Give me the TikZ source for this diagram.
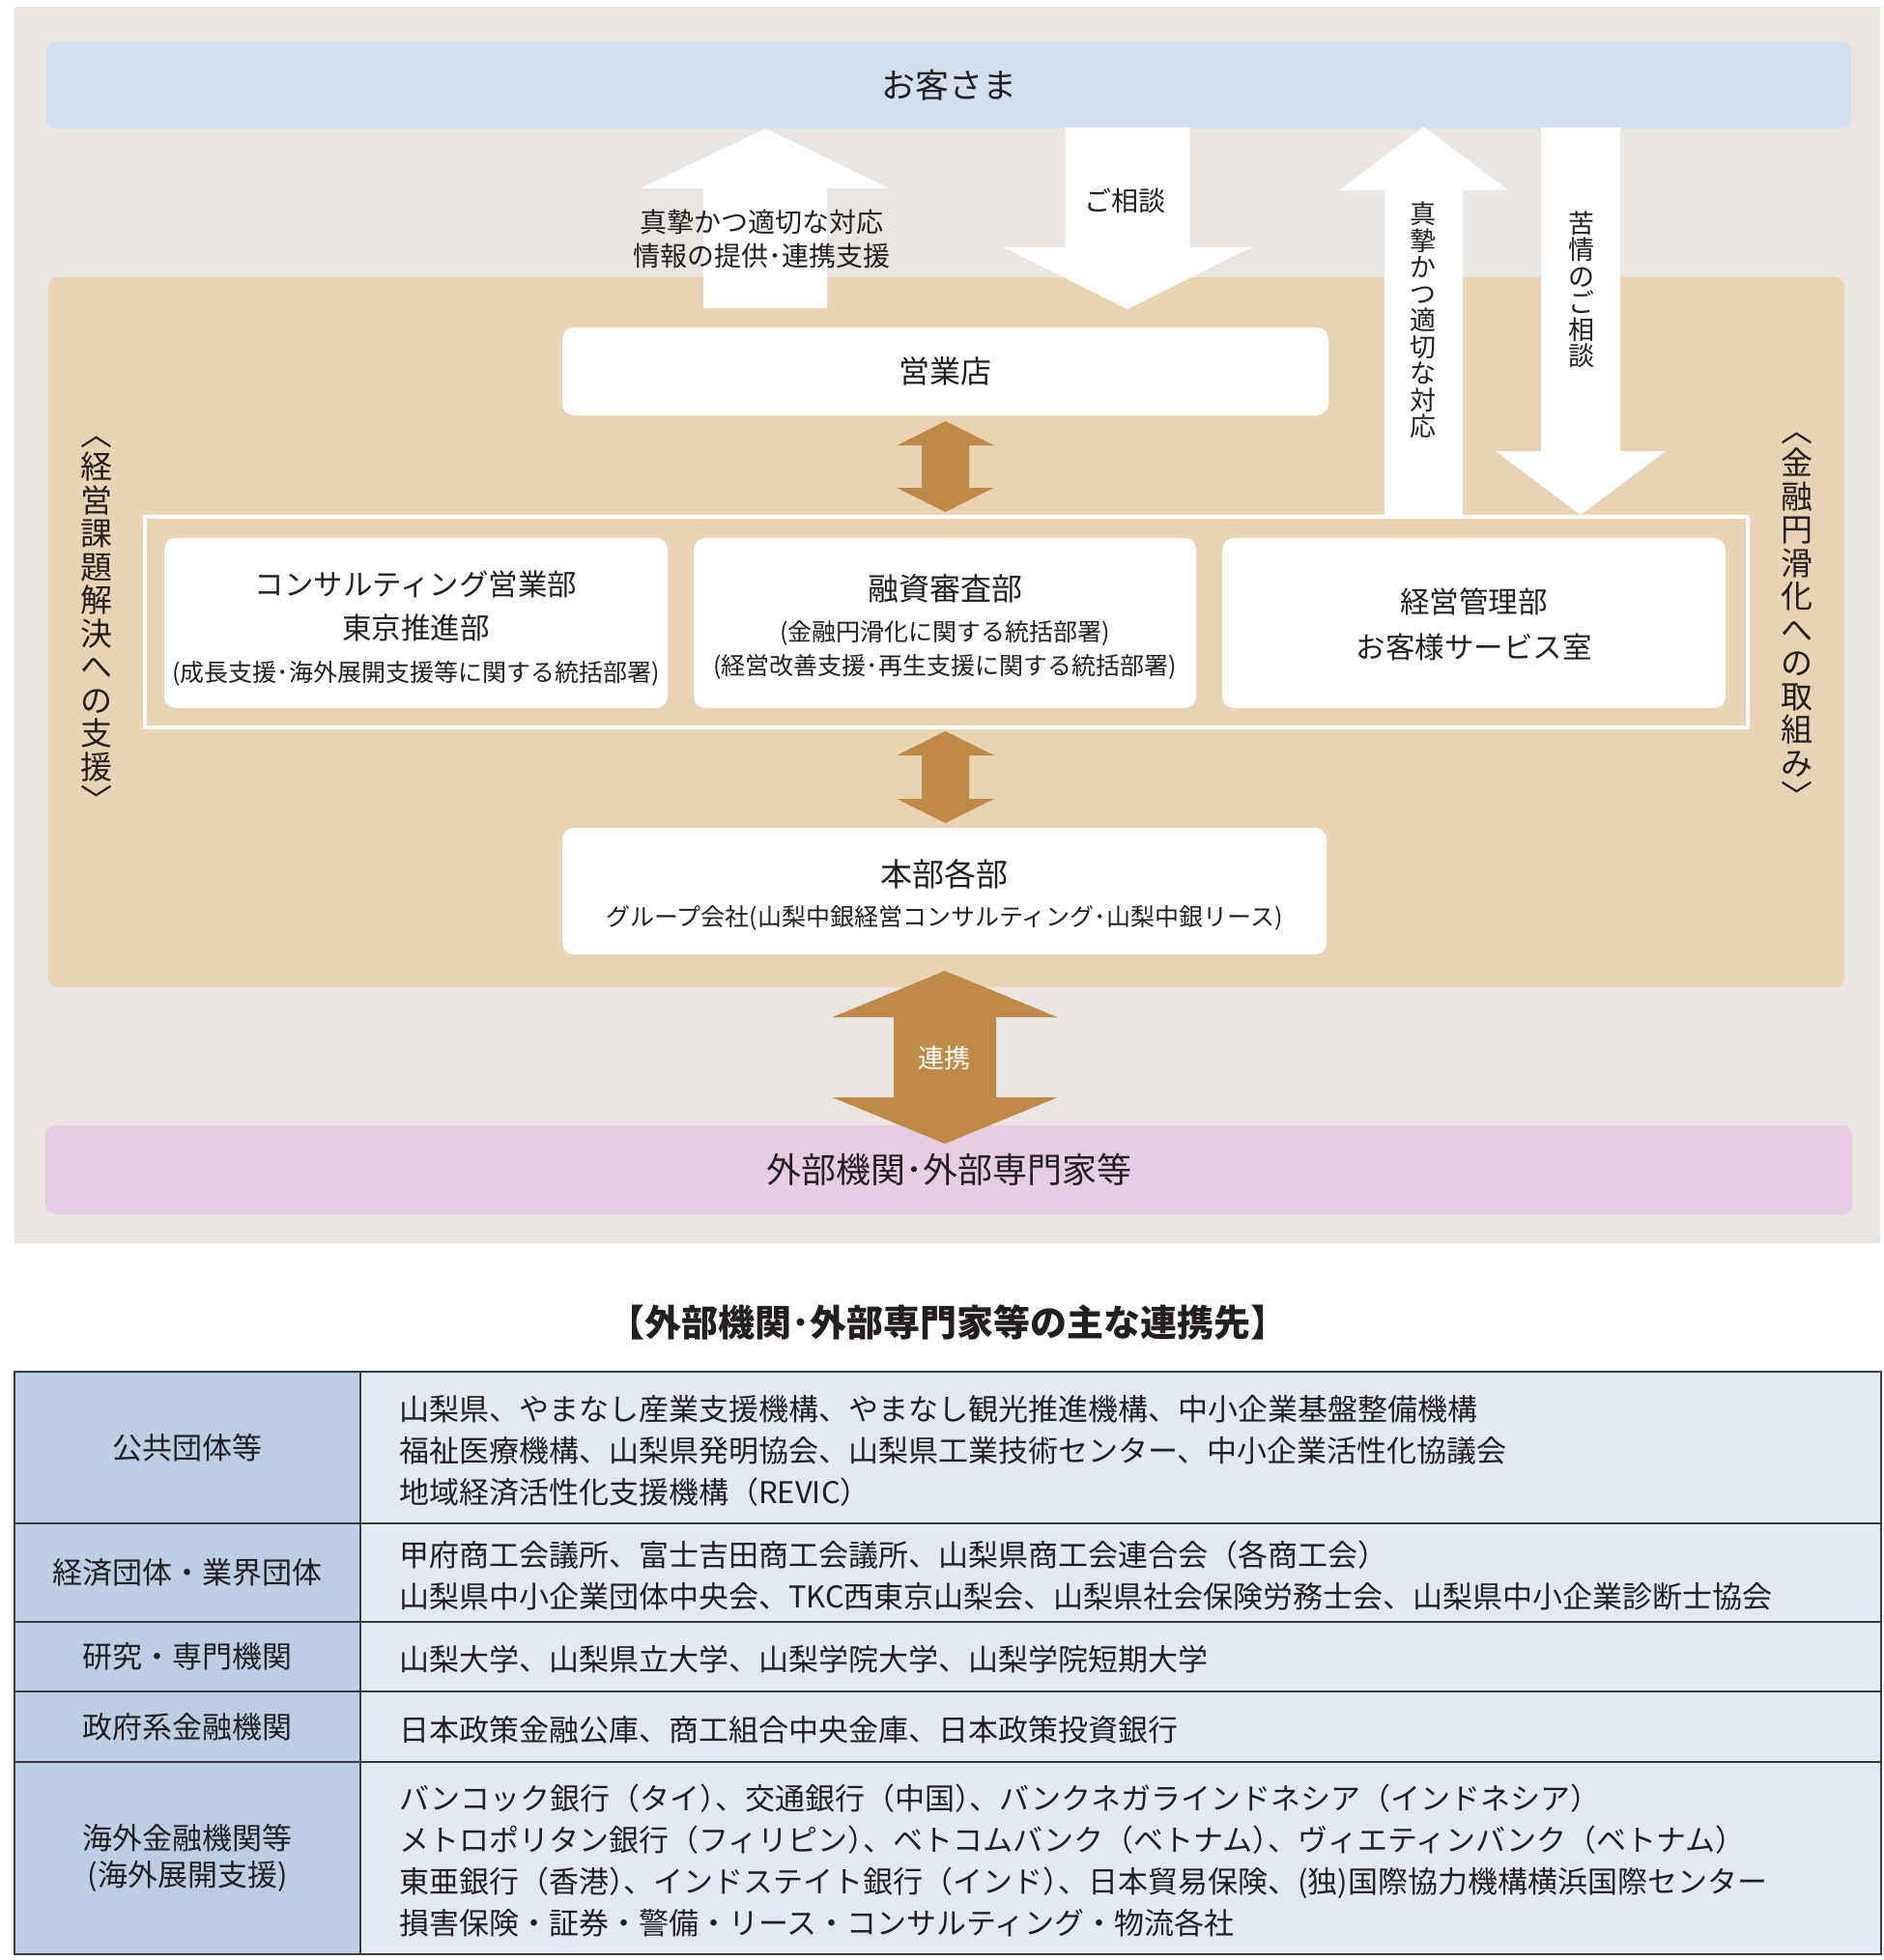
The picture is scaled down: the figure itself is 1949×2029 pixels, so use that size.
\documentclass[tikz,border=0pt]{standalone}
\usepackage{fontspec}
\setmainfont{Noto Sans CJK JP}
\usetikzlibrary{calc}
\definecolor{bggray}{HTML}{E8E5E3}
\definecolor{custblue}{HTML}{D3DEEE}
\definecolor{tanbg}{HTML}{E9D3B5}
\definecolor{brownarrow}{HTML}{BF8A46}
\definecolor{pinkbg}{HTML}{E6CDE4}
\definecolor{thead}{HTML}{BDCEE4}
\definecolor{tbody}{HTML}{E2E9F3}
\definecolor{ink}{HTML}{231F20}
\definecolor{tline}{HTML}{3C3C3C}
\newcommand\jfs[2]{\fontsize{#1}{#2}\selectfont}
\newcommand\pc{）\kern-.5em、}
% color, cx, tip, headbase, tail, half head width, half shaft width
\newcommand\myblockarrow[7]{%
  \fill[#1] (#2,#3) -- ({#2+#6},#4) -- ({#2+#7},#4) -- ({#2+#7},#5) -- ({#2-#7},#5) -- ({#2-#7},#4) -- ({#2-#6},#4) -- cycle;}
% color, cx, top tip, top head base, bottom head base, bottom tip, half head width, half shaft width
\newcommand\mydoublearrow[8]{%
  \fill[#1] (#2,#3) -- ({#2+#7},#4) -- ({#2+#8},#4) -- ({#2+#8},#5) -- ({#2+#7},#5) -- (#2,#6) -- ({#2-#7},#5) -- ({#2-#8},#5) -- ({#2-#8},#4) -- ({#2-#7},#4) -- cycle;}
\tikzset{
  band/.style={rounded corners=10pt, inner sep=0pt, text=ink},
  wbox/.style={fill=white, rounded corners=12pt, inner sep=0pt, text=ink},
  frameline/.style={draw=white, line width=4pt, inner sep=0pt},
  lbl/.style={inner sep=0pt, text=ink, align=center},
  hcell/.style={draw=tline, line width=2pt, fill=thead, inner sep=0pt, anchor=north west, minimum width=358pt},
  bcell/.style={draw=tline, line width=2pt, fill=tbody, inner sep=0pt, anchor=north west, minimum width=1574pt},
  rowtext/.style={inner sep=0pt, text=ink, align=left, anchor=west, font=\jfs{31}{43}, yshift=-3pt},
  headtext/.style={inner sep=0pt, text=ink, align=center, font=\jfs{31}{38}},
}
\begin{document}
\begin{tikzpicture}[x=1pt,y=-1pt]
\useasboundingbox (0,0) rectangle (1949,2029);
\fill[white] (0,0) rectangle (1949,2029);
% panels
\node[fill=bggray, inner sep=0pt, minimum width=1931pt, minimum height=1280pt] (panel) at (980.5,647) {};
\node[band, fill=custblue, minimum width=1868pt, minimum height=90pt, font=\jfs{35}{35}] (cust) at (982,88) {お客さま};
\node[band, fill=tanbg, minimum width=1859pt, minimum height=735pt] (tanarea) at (979.5,654.5) {};
\node[band, fill=pinkbg, minimum width=1870pt, minimum height=92pt, font=\jfs{36}{36}] (ext) at (982,1211) {外部機関･外部専門家等};
% white block arrows
\myblockarrow{white}{792}{133}{195}{319}{129}{64}
\myblockarrow{white}{1167}{320}{256}{132}{128.5}{64.5}
\myblockarrow{white}{1473.5}{131}{197}{535}{87.5}{40.5}
\myblockarrow{white}{1636}{533}{467}{132}{88}{41}
% boxes
\node[wbox, minimum width=793pt, minimum height=91pt, font=\jfs{32}{32}] (branch) at (978.5,384.5) {営業店};
\node[frameline, minimum width=1659pt, minimum height=218pt] (depts) at (979.5,644) {};
\node[wbox, minimum width=521pt, minimum height=176pt] (cons) at (430.5,645) {};
\node[wbox, minimum width=520pt, minimum height=176pt] (loan) at (978,645) {};
\node[wbox, minimum width=521pt, minimum height=176pt] (mgmt) at (1525.5,645) {};
\node[wbox, minimum width=791pt, minimum height=131pt] (hq) at (977.5,922.5) {};
% box texts
\node[lbl, font=\jfs{30.5}{30.5}] (consA) at (430.5,605) {コンサルティング営業部};
\node[lbl, font=\jfs{30.5}{30.5}] (consB) at (430.5,650) {東京推進部};
\node[lbl, font=\jfs{25}{25}] (consC) at (430.5,697) {(成長支援･海外展開支援等に関する統括部署)};
\node[lbl, font=\jfs{32}{32}] (loanA) at (978,609) {融資審査部};
\node[lbl, font=\jfs{25}{25}] (loanB) at (978,655) {(金融円滑化に関する統括部署)};
\node[lbl, font=\jfs{25}{25}] (loanC) at (978,690) {(経営改善支援･再生支援に関する統括部署)};
\node[lbl, font=\jfs{30.5}{30.5}] (mgmtA) at (1525.5,623) {経営管理部};
\node[lbl, font=\jfs{30.5}{30.5}] (mgmtB) at (1525.5,670) {お客様サービス室};
\node[lbl, font=\jfs{33}{33}] (hqA) at (977.5,905) {本部各部};
\node[lbl, font=\jfs{25}{25}] (hqB) at (977.5,950) {グループ会社(山梨中銀経営コンサルティング･山梨中銀リース)};
% brown double arrows
\mydoublearrow{brownarrow}{978.5}{436}{461}{505}{530}{50}{24.5}
\mydoublearrow{brownarrow}{978.5}{757}{782}{827}{852}{50.5}{24.5}
\mydoublearrow{brownarrow}{978}{1005}{1053}{1136}{1184}{116.5}{53}
% arrow labels
\node[lbl, font=\jfs{28}{35}] (respA) at (788,247.5) {真摯かつ適切な対応\\情報の提供･連携支援};
\node[lbl, font=\jfs{28}{28}] (consult) at (1164,208) {ご相談};
\node[lbl, font=\jfs{27}{27.5}] (respB) at (1473,331.5) {真\\摯\\か\\つ\\適\\切\\な\\対\\応};
\node[lbl, font=\jfs{27}{27.5}] (compl) at (1637,299.5) {苦\\情\\の\\ご\\相\\談};
\node[lbl, text=white, font=\jfs{27}{27}] (renkei) at (977,1095) {連携};
% side vertical texts
\node[lbl, font=\jfs{33}{34.5}] (leftv) at (100,646) {︿\\経\\営\\課\\題\\解\\決\\へ\\の\\支\\援\\﹀};
\node[lbl, font=\jfs{33}{34.5}] (rightv) at (1860,642) {︿\\金\\融\\円\\滑\\化\\へ\\の\\取\\組\\み\\﹀};
% title
\node[lbl, font=\jfs{38}{38}\bfseries] (ttl) at (981,1369) {【外部機関･外部専門家等の主な連携先】};
% table
\node[hcell, minimum height=157pt] (h1) at (14,1419) {};
\node[bcell, minimum height=157pt] (c1) at (372,1419) {};
\node[hcell, minimum height=102pt] (h2) at (14,1576) {};
\node[bcell, minimum height=102pt] (c2) at (372,1576) {};
\node[hcell, minimum height=72pt] (h3) at (14,1678) {};
\node[bcell, minimum height=72pt] (c3) at (372,1678) {};
\node[hcell, minimum height=73pt] (h4) at (14,1750) {};
\node[bcell, minimum height=73pt] (c4) at (372,1750) {};
\node[hcell, minimum height=199pt] (h5) at (14,1823) {};
\node[bcell, minimum height=199pt] (c5) at (372,1823) {};
\node[headtext] (h1t) at (h1.center) {公共団体等};
\node[headtext] (h2t) at (h2.center) {経済団体・業界団体};
\node[headtext] (h3t) at (h3.center) {研究・専門機関};
\node[headtext] (h4t) at (h4.center) {政府系金融機関};
\node[headtext] (h5t) at (h5.center) {海外金融機関等\\(海外展開支援)};
\node[rowtext] (c1t) at ([xshift=41pt]c1.west) {山梨県、やまなし産業支援機構、やまなし観光推進機構、中小企業基盤整備機構\\福祉医療機構、山梨県発明協会、山梨県工業技術センター、中小企業活性化協議会\\地域経済活性化支援機構（REVIC）};
\node[rowtext] (c2t) at ([xshift=41pt]c2.west) {甲府商工会議所、富士吉田商工会議所、山梨県商工会連合会（各商工会）\\山梨県中小企業団体中央会、TKC西東京山梨会、山梨県社会保険労務士会、山梨県中小企業診断士協会};
\node[rowtext] (c3t) at ([xshift=41pt]c3.west) {山梨大学、山梨県立大学、山梨学院大学、山梨学院短期大学};
\node[rowtext] (c4t) at ([xshift=41pt]c4.west) {日本政策金融公庫、商工組合中央金庫、日本政策投資銀行};
\node[rowtext] (c5t) at ([xshift=41pt]c5.west) {バンコック銀行（タイ\pc 交通銀行（中国\pc バンクネガラインドネシア（インドネシア）\\メトロポリタン銀行（フィリピン\pc ベトコムバンク（ベトナム\pc ヴィエティンバンク（ベトナム）\\東亜銀行（香港\pc インドステイト銀行（インド\pc 日本貿易保険、(独)国際協力機構横浜国際センター\\損害保険・証券・警備・リース・コンサルティング・物流各社};
\end{tikzpicture}
\end{document}
